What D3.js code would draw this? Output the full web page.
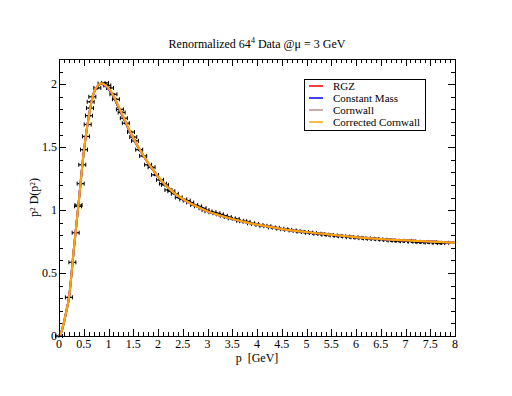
<!DOCTYPE html>
<html>
<head>
<meta charset="utf-8">
<script src="https://cdn.jsdelivr.net/npm/d3@7"></script>
<style>
  body { margin: 0; background: #fff; }
</style>
</head>
<body>
<script>
// Lattice data points (p in GeV, p^2 D(p^2))
var pointP = [0, 0.20, 0.27, 0.337, 0.385, 0.395, 0.438, 0.47, 0.505, 0.545, 0.58, 0.606, 0.626, 0.64, 0.673, 0.774, 0.86,
  0.93, 0.976, 1.03, 1.10, 1.15, 1.23, 1.266, 1.31, 1.35, 1.455, 1.50, 1.535,
  1.62, 1.70, 1.80, 1.87, 1.94, 2.04, 2.10, 2.14, 2.21, 2.27, 2.34, 2.42, 2.51, 2.58, 2.65, 2.73, 2.81, 2.90, 2.96,
  3.02, 3.10, 3.18, 3.25, 3.33, 3.41, 3.49, 3.57, 3.66, 3.72, 3.79, 3.88, 3.96, 4.05, 4.13, 4.21, 4.30, 4.38, 4.47,
  4.55, 4.63, 4.72, 4.80, 4.88, 4.97, 5.05, 5.13, 5.22, 5.30, 5.38, 5.47, 5.55, 5.63, 5.72, 5.80, 5.88, 5.97, 6.05,
  6.13, 6.22, 6.30, 6.38, 6.47, 6.55, 6.63, 6.72, 6.80, 6.88, 6.97, 7.05, 7.13, 7.22, 7.30, 7.38, 7.47, 7.55, 7.63,
  7.72, 7.80];
var pointV = [0, 0.307, 0.585, 0.82, 1.03, 1.04, 1.21, 1.36, 1.48, 1.585, 1.68, 1.75, 1.81, 1.86, 1.90, 1.97, 2.005,
  2.01, 1.99, 1.97, 1.92, 1.88, 1.80, 1.775, 1.73, 1.69, 1.62, 1.58, 1.55,
  1.48, 1.43, 1.36, 1.34, 1.28, 1.24, 1.21, 1.20, 1.16, 1.15, 1.13, 1.10, 1.085, 1.075, 1.06, 1.04, 1.03, 1.015, 1.00,
  0.99, 0.983, 0.975, 0.966, 0.955, 0.945, 0.934, 0.93, 0.915, 0.912, 0.907, 0.895, 0.89, 0.882, 0.875, 0.872, 0.862, 0.86, 0.852,
  0.848, 0.843, 0.838, 0.834, 0.828, 0.826, 0.82, 0.818, 0.812, 0.81, 0.805, 0.803, 0.799, 0.795, 0.792, 0.79, 0.785, 0.784, 0.78,
  0.777, 0.775, 0.772, 0.77, 0.768, 0.765, 0.762, 0.758, 0.757, 0.755, 0.752, 0.756, 0.75, 0.748, 0.745, 0.747, 0.742, 0.745, 0.74,
  0.738, 0.74];

// Fitted curves sampled in p
var curveP = [0, 0.05, 0.1, 0.15, 0.2, 0.3, 0.4, 0.5, 0.6, 0.7, 0.8, 0.85, 0.9, 1.0, 1.1, 1.2, 1.3, 1.4, 1.5, 1.6, 1.7,
  1.8, 1.9, 2.0, 2.2, 2.4, 2.6, 2.8, 3.0, 3.25, 3.5, 3.75, 4.0, 4.5, 5.0, 5.5, 6.0, 6.5, 7.0, 7.5, 8.0];
var rgzV = [0, 0.035, 0.11, 0.2, 0.3, 0.69, 1.07, 1.46, 1.74, 1.928, 1.992, 2.003, 1.997, 1.962, 1.902, 1.818, 1.733, 1.648, 1.570, 1.500, 1.435,
  1.374, 1.319, 1.265, 1.18, 1.115, 1.065, 1.025, 0.99, 0.958, 0.93, 0.905, 0.885, 0.85, 0.825, 0.805, 0.785, 0.77, 0.76, 0.75, 0.74];
var constMassV = [0, 0.035, 0.11, 0.2, 0.3, 0.69, 1.07, 1.46, 1.74, 1.928, 1.992, 2.003, 1.997, 1.963, 1.903, 1.819, 1.734, 1.649, 1.571, 1.500, 1.435,
  1.374, 1.319, 1.265, 1.18, 1.115, 1.065, 1.025, 0.99, 0.958, 0.93, 0.905, 0.885, 0.85, 0.825, 0.805, 0.785, 0.77, 0.76, 0.75, 0.74];
var cornwallV = [0, 0.035, 0.11, 0.2, 0.3, 0.69, 1.07, 1.46, 1.74, 1.93, 1.995, 2.006, 2.001, 1.967, 1.907, 1.824, 1.739, 1.653, 1.574, 1.502, 1.436,
  1.375, 1.32, 1.265, 1.18, 1.115, 1.065, 1.025, 0.99, 0.958, 0.93, 0.905, 0.885, 0.85, 0.825, 0.805, 0.785, 0.77, 0.76, 0.75, 0.74];
var corrCornwallV = [0, 0.035, 0.11, 0.2, 0.3, 0.69, 1.07, 1.46, 1.74, 1.93, 1.995, 2.008, 2.003, 1.97, 1.91, 1.828, 1.742, 1.655, 1.575, 1.503, 1.437,
  1.375, 1.32, 1.265, 1.18, 1.115, 1.065, 1.025, 0.99, 0.958, 0.93, 0.905, 0.885, 0.85, 0.825, 0.805, 0.785, 0.77, 0.76, 0.75, 0.74];

var seriesNames = ["RGZ", "Constant Mass", "Cornwall", "Corrected Cornwall"];
var seriesColors = ["#ff0000", "#0000ff", "#bc8f8f", "#ffa500"];
var seriesValues = [rgzV, constMassV, cornwallV, corrCornwallV];

var xTicks = [0, 0.5, 1, 1.5, 2, 2.5, 3, 3.5, 4, 4.5, 5, 5.5, 6, 6.5, 7, 7.5, 8];
var yTicks = [0, 0.5, 1, 1.5, 2];

var width = 512, height = 396;
var mLeft = 59, mRight = 455, mTop = 59, mBottom = 336;
var serif = "'Liberation Serif', 'Times New Roman', Times, 'DejaVu Serif', serif";

var svg = d3.select("body").append("svg")
  .attr("width", width)
  .attr("height", height)
  .attr("font-family", serif)
  .style("font-family", serif);

var x = d3.scaleLinear().domain([0, 8]).range([mLeft, mRight]);
var y = d3.scaleLinear().domain([0, 2.2]).range([mBottom, mTop]);

// Minor ticks every 0.1
var xMinor = d3.range(0, 8.0001, 0.1).filter(function(d){ return Math.abs(d * 2 - Math.round(d * 2)) > 1e-6; });
var yMinor = d3.range(0, 2.2001, 0.1).filter(function(d){ return Math.abs(d * 2 - Math.round(d * 2)) > 1e-6; });

var g = svg.append("g");

// Tick marks on all four sides, pointing inwards
function tickLines(vals, len, horiz) {
  vals.forEach(function(v){
    if (horiz) {
      var px = Math.round(x(v)) + 0.5;
      g.append("line").attr("x1", px).attr("x2", px).attr("y1", mBottom).attr("y2", mBottom - len).attr("stroke", "#000");
      g.append("line").attr("x1", px).attr("x2", px).attr("y1", mTop).attr("y2", mTop + len).attr("stroke", "#000");
    } else {
      var py = Math.round(y(v)) + 0.5;
      g.append("line").attr("x1", mLeft).attr("x2", mLeft + len).attr("y1", py).attr("y2", py).attr("stroke", "#000");
      g.append("line").attr("x1", mRight).attr("x2", mRight - len).attr("y1", py).attr("y2", py).attr("stroke", "#000");
    }
  });
}
tickLines(xTicks, 7, true);
tickLines(xMinor, 4, true);
tickLines(yTicks, 7, false);
tickLines(yMinor, 4, false);

// Tick labels
g.selectAll(".xl").data(xTicks).enter().append("text")
  .attr("x", function(d){ return x(d); })
  .attr("y", mBottom + 12)
  .attr("text-anchor", "middle")
  .style("font-size", "12px")
  .text(function(d){ return d; });
g.selectAll(".yl").data(yTicks).enter().append("text")
  .attr("x", mLeft - 2)
  .attr("y", function(d){ return y(d) + 4; })
  .attr("text-anchor", "end")
  .style("font-size", "12px")
  .text(function(d){ return d; });

// Data points with horizontal error bars
var pts = pointP.map(function(p, i){ return [p, pointV[i]]; });
var pg = svg.append("g");
pts.forEach(function(d){
  var cx = x(d[0]), cy = y(d[1]);
  pg.append("line").attr("x1", cx - 3.5).attr("x2", cx + 3.5).attr("y1", cy).attr("y2", cy).attr("stroke", "#000").attr("stroke-width", 1.2);
  pg.append("line").attr("x1", cx - 3.5).attr("x2", cx - 3.5).attr("y1", cy - 2).attr("y2", cy + 2).attr("stroke", "#000");
  pg.append("line").attr("x1", cx + 3.5).attr("x2", cx + 3.5).attr("y1", cy - 2).attr("y2", cy + 2).attr("stroke", "#000");
  pg.append("circle").attr("cx", cx).attr("cy", cy).attr("r", 1.5).attr("fill", "#000");
});

// Curves
var line = d3.line()
  .x(function(d){ return x(d[0]); })
  .y(function(d){ return y(d[1]); })
  .curve(d3.curveMonotoneX);

seriesValues.forEach(function(vals, i){
  svg.append("path")
    .datum(curveP.map(function(p, j){ return [p, vals[j]]; }))
    .attr("fill", "none")
    .attr("stroke", seriesColors[i])
    .attr("stroke-width", 2)
    .attr("d", line);
});

// Frame
svg.append("rect")
  .attr("x", mLeft + 0.5).attr("y", mTop + 0.5)
  .attr("width", mRight - mLeft).attr("height", mBottom - mTop)
  .attr("fill", "none").attr("stroke", "#000");

// Title
var title = svg.append("text")
  .attr("x", 257).attr("y", 48)
  .attr("text-anchor", "middle")
  .style("font-size", "12px");
title.append("tspan").text("Renormalized 64");
title.append("tspan").attr("dy", -5).style("font-size", "8px").text("4");
title.append("tspan").attr("dy", 5).text(" Data @\u03bc = 3 GeV");

// Axis labels
svg.append("text")
  .attr("x", (mLeft + mRight) / 2).attr("y", 362)
  .attr("text-anchor", "middle")
  .style("font-size", "12px")
  .style("white-space", "pre")
  .text("p  [GeV]");
svg.append("text")
  .attr("transform", "translate(38," + ((mTop + mBottom) / 2) + ") rotate(-90)")
  .attr("text-anchor", "middle")
  .style("font-size", "12px")
  .text("p\u00b2 D(p\u00b2)");

// Legend
var lg = svg.append("g");
lg.append("rect").attr("x", 304.5).attr("y", 79.5).attr("width", 121).attr("height", 51)
  .attr("fill", "#fff").attr("stroke", "#000");
seriesNames.forEach(function(name, i){
  var ly = 86 + i * 12;
  lg.append("line").attr("x1", 309).attr("x2", 323).attr("y1", ly).attr("y2", ly)
    .attr("stroke", seriesColors[i]).attr("stroke-width", 1.5);
  lg.append("text").attr("x", 333).attr("y", ly + 3.5).style("font-size", "11px").text(name);
});
</script>
</body>
</html>
